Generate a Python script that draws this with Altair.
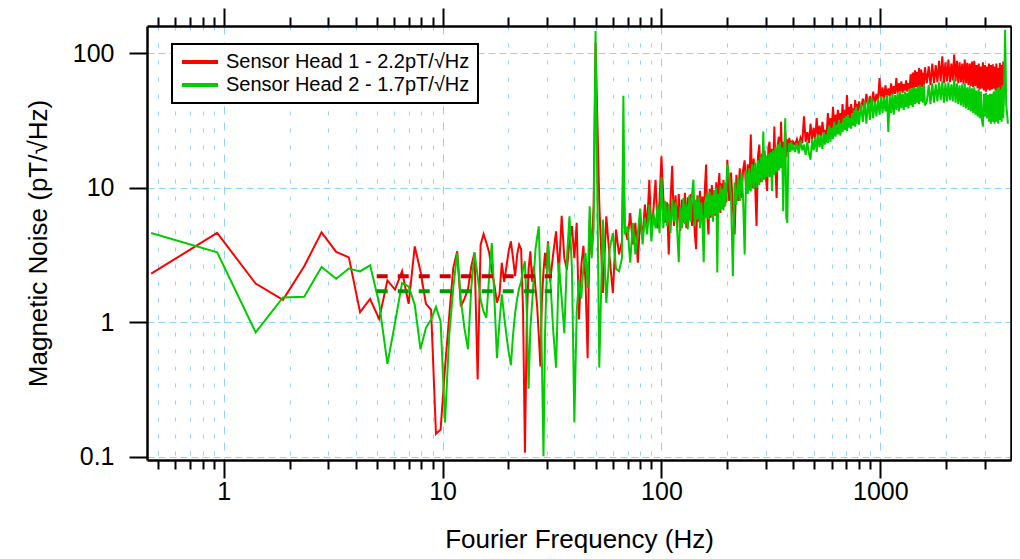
import altair as alt
import pandas as pd

NAME_RED = "Sensor Head 1 - 2.2pT/√Hz"
NAME_GREEN = "Sensor Head 2 - 1.7pT/√Hz"

# ---- low-frequency FFT bins (Hz) ----
LF_F = [0.466, 0.933, 1.399, 1.865, 2.332, 2.798, 3.264, 3.730, 4.197, 4.663,
        5.129, 5.596, 6.062, 6.528, 6.995, 7.461, 7.927, 8.393, 8.860, 9.326,
        9.792, 10.26, 10.72, 11.19, 11.66, 12.12, 12.59, 13.06, 13.52, 13.99,
        14.46, 14.92, 15.39, 15.85, 16.32, 16.79, 17.25, 17.72, 18.19, 18.65,
        19.12, 19.58, 20.05, 20.52, 20.98, 21.45, 21.92, 22.38, 22.85, 23.32,
        23.78, 24.25, 24.71, 25.18, 25.65, 26.11, 26.58, 27.05, 27.51, 27.98,
        28.44, 28.91, 29.38, 29.84, 30.31]
LF_RED = [2.30, 4.62, 1.94, 1.47, 2.61, 4.67, 3.34, 3.04, 1.19, 1.49,
          1.06, 2.05, 1.75, 2.40, 1.37, 3.67, 2.39, 1.37, 1.24, 0.148,
          0.159, 0.46, 1.11, 2.54, 3.37, 1.31, 1.5, 1.75, 2.6, 3.3,
          0.375, 3.78, 4.54, 3.9, 3.3, 2.4, 1.9, 1.4, 1.6, 2.77,
          2.0, 2.6, 3.4, 4.0, 3.0, 2.2, 3.2, 3.78, 3.5, 1.2,
          0.107, 1.0, 2.5, 3.37, 2.0, 2.61, 1.8, 1.31, 0.8, 0.47,
          1.5, 2.4, 3.28, 2.5, 4.0]
LF_GREEN = [4.62, 3.32, 0.84, 1.53, 1.55, 2.58, 2.11, 2.51, 2.39, 2.65,
            1.39, 0.49, 0.99, 1.96, 1.85, 1.35, 0.63, 0.91, 1.05, 1.30,
            1.02, 0.18, 0.80, 1.80, 3.28, 1.47, 0.9, 0.63, 1.8, 3.3,
            2.2, 1.47, 1.2, 1.08, 2.2, 3.89, 1.5, 0.54, 1.0, 1.61,
            1.1, 0.8, 0.6, 0.48, 0.8, 1.17, 1.5, 1.8, 2.0, 2.5,
            2.84, 1.2, 0.32, 0.9, 1.39, 2.2, 3.5, 4.3, 5.17, 2.0,
            0.5, 0.101, 0.8, 2.0, 3.89]

# ---- 31 - 100 Hz ----
MID_F = [31, 32, 33, 34, 35, 36, 37, 38, 39, 40, 41, 42, 43, 44, 45, 46, 47, 48, 49, 50,
         52, 54, 56, 58, 60, 62, 64, 66, 67, 68, 70, 72, 74, 76, 78, 80, 82, 84, 86, 88,
         90, 92, 94, 96, 98, 100]
MID_RED = [2.0, 3.2, 4.75, 2.3, 6.2, 3.0, 2.46, 4.0, 5.2, 3.0, 5.5, 1.05, 2.6, 3.7, 2.0,
           0.54, 5.8, 3.2, 7.5, 120,
           7.7, 1.65, 6.15, 3.0, 1.65, 4.9, 3.2, 4.0, 15.7, 5.0, 4.1, 6.5, 3.8, 5.5, 2.77,
           6.0, 4.2, 7.5, 5.0, 11.5, 4.5, 7.0, 11.5, 5.0, 8.0, 17.2]
MID_GREEN = [2.2, 0.88, 0.46, 2.77, 1.5, 0.83, 3.0, 6.15, 2.5, 0.18, 1.2, 2.08, 1.5, 2.6,
             3.28, 1.8, 7.3, 3.0, 5.0, 147,
             0.46, 5.8, 1.39, 3.5, 4.6, 2.5, 2.4, 3.0, 48.5, 4.5, 5.17, 2.77, 5.5, 3.2,
             4.6, 7.0, 3.8, 6.0, 4.5, 7.5, 4.0, 6.5, 5.0, 7.5, 4.6, 12.0]

# ---- 100 - 200 Hz ----
C_F = [102, 104, 106, 108, 110, 112, 114, 116, 118, 120, 122, 124, 126, 128, 130, 132,
       134, 136, 138, 140, 142, 144, 146, 148, 150, 152, 154, 156, 158, 160, 162, 164,
       166, 168, 170, 172, 174, 176, 178, 180, 182, 184, 186, 188, 190, 192, 194, 196,
       198, 200]
C_RED = [8.5, 5.5, 7.8, 3.2, 8.0, 14.6, 5.2, 8.8, 5.0, 9.0,
         4.8, 8.2, 5.5, 9.2, 5.0, 8.5, 5.8, 9.0, 5.2, 8.0,
         4.6, 3.5, 8.8, 5.6, 9.5, 6.0, 8.6, 5.4, 10.0, 14.9,
         6.2, 4.5, 9.8, 6.0, 10.5, 6.4, 9.6, 6.2, 11.0, 6.8,
         10.2, 12.9, 6.5, 10.8, 7.0, 11.5, 7.2, 10.0, 7.8, 16.2]
C_GREEN = [5.0, 8.0, 5.2, 7.6, 4.6, 8.2, 5.6, 7.8, 4.8, 2.8,
           7.2, 5.0, 8.4, 5.4, 7.6, 4.9, 8.8, 5.6, 9.0, 11.5,
           5.2, 8.2, 5.8, 8.6, 5.0, 7.8, 5.4, 2.8, 8.0, 6.0,
           9.2, 5.8, 9.4, 6.2, 8.8, 5.6, 9.6, 6.4, 10.0, 2.35,
           9.0, 6.6, 10.4, 7.0, 9.8, 6.8, 11.0, 7.4, 10.2, 15.0]

# ---- 200 - 400 Hz ----
D_F = [204, 208, 212, 216, 220, 224, 228, 232, 236, 240, 244, 248, 252, 256, 260, 264,
       268, 272, 276, 280, 284, 288, 292, 296, 300, 304, 308, 312, 316, 320, 324, 328,
       332, 336, 340, 344, 348, 352, 356, 360, 364, 368, 372, 376, 380, 384, 388, 392,
       396, 400]
D_RED = [8.0, 13.0, 7.2, 4.5, 12.5, 8.0, 14.0, 8.4, 13.5, 16.0,
         9.0, 15.0, 9.6, 24.9, 10.0, 16.5, 10.4, 5.2, 17.0, 21.0,
         11.0, 18.0, 11.5, 19.0, 12.0, 9.5, 20.0, 22.0, 12.5, 19.5,
         13.0, 28.6, 14.0, 8.4, 21.0, 24.0, 14.5, 31.0, 15.0, 22.0,
         16.0, 26.0, 17.0, 23.0, 18.5, 23.6, 19.0, 22.5, 19.5, 22.0]
D_GREEN = [12.0, 8.5, 2.2, 11.0, 7.5, 12.0, 8.0, 13.0, 8.6, 3.2,
           13.5, 9.0, 14.0, 9.4, 15.0, 9.8, 15.5, 10.0, 16.0, 10.5,
           17.0, 11.0, 26.2, 11.5, 17.5, 12.0, 18.0, 12.0, 18.5, 9.5,
           19.0, 12.5, 20.0, 13.0, 21.0, 13.5, 22.0, 14.0, 20.0, 6.7,
           19.0, 33.0, 6.0, 5.5, 18.0, 21.5, 18.5, 22.0, 19.0, 21.0]

# ---- 400 - 800 Hz ----
E_F = [408, 416, 424, 432, 440, 448, 456, 464, 472, 480, 488, 496, 504, 512, 520, 528,
       536, 544, 552, 560, 568, 576, 584, 592, 600, 608, 616, 624, 632, 640, 648, 656,
       664, 672, 680, 688, 696, 704, 712, 720, 728, 736, 744, 752, 760, 768, 776, 784,
       792, 800]
E_RED = [21.0, 23.0, 20.5, 23.5, 21.5, 34.0, 22.0, 26.0, 21.5, 30.0,
         23.0, 28.0, 22.5, 33.0, 24.0, 29.0, 23.5, 31.0, 25.0, 27.0,
         24.0, 36.0, 26.0, 33.0, 27.0, 40.0, 28.0, 35.0, 29.0, 38.0,
         28.5, 36.0, 30.0, 42.0, 31.0, 38.0, 32.0, 49.0, 33.0, 40.0,
         32.0, 42.0, 34.0, 39.0, 35.0, 45.0, 36.0, 42.0, 37.0, 44.0]
E_GREEN = [18.5, 21.5, 18.0, 22.5, 19.0, 21.0, 17.6, 22.0, 18.0, 16.2,
           23.0, 19.0, 24.0, 18.5, 25.0, 20.0, 24.5, 19.5, 26.0, 21.0,
           25.0, 21.5, 29.0, 22.0, 28.0, 23.0, 31.0, 24.0, 29.5, 25.0,
           32.0, 24.5, 30.0, 26.0, 33.0, 27.0, 34.0, 26.5, 35.0, 28.0,
           33.0, 27.5, 36.0, 29.0, 38.0, 28.5, 40.0, 30.0, 37.0, 29.5]

# ---- 800 - 1600 Hz ----
F_F = [816, 832, 848, 864, 880, 896, 912, 928, 944, 960, 976, 992, 1008, 1024, 1040,
       1056, 1072, 1088, 1104, 1120, 1136, 1152, 1168, 1184, 1200, 1216, 1232, 1248,
       1264, 1280, 1296, 1312, 1328, 1344, 1360, 1376, 1392, 1408, 1424, 1440, 1456,
       1472, 1488, 1504, 1520, 1536, 1552, 1568, 1584, 1600]
F_RED = [38.0, 46.0, 39.0, 50.0, 40.0, 48.0, 41.0, 52.0, 42.0, 50.0,
         44.0, 65.6, 45.0, 56.0, 46.0, 58.0, 47.0, 55.0, 48.0, 60.0,
         49.0, 57.0, 50.0, 65.6, 51.0, 60.0, 52.0, 62.0, 51.0, 59.0,
         53.0, 63.0, 52.0, 60.0, 54.0, 70.0, 55.0, 72.0, 54.0, 75.0,
         56.0, 73.0, 55.0, 78.0, 57.0, 76.0, 56.0, 72.0, 58.0, 79.0]
F_GREEN = [42.0, 31.0, 44.0, 30.0, 46.0, 32.0, 47.0, 33.0, 44.0, 34.0,
           46.0, 35.0, 48.0, 36.0, 47.0, 37.0, 49.0, 26.0, 48.0, 36.0,
           50.0, 35.0, 49.0, 38.0, 51.0, 37.0, 52.0, 39.0, 50.0, 38.0,
           52.0, 40.0, 51.0, 39.0, 54.0, 41.0, 55.0, 40.0, 56.0, 42.0,
           55.0, 43.0, 57.0, 42.0, 58.0, 44.0, 56.0, 43.0, 59.0, 41.0]

# ---- 1600 - 3200 Hz ----
G_F = [1632, 1664, 1696, 1728, 1760, 1792, 1824, 1856, 1888, 1920, 1952, 1984, 2016,
       2048, 2080, 2112, 2144, 2176, 2208, 2240, 2272, 2304, 2336, 2368, 2400, 2432,
       2464, 2496, 2528, 2560, 2592, 2624, 2656, 2688, 2720, 2752, 2784, 2816, 2848,
       2880, 2912, 2944, 2976, 3008, 3040, 3072, 3104, 3136, 3168, 3200]
G_RED = [60.0, 80.0, 58.0, 84.0, 60.0, 82.0, 61.0, 88.0, 62.0, 95.0,
         60.0, 86.0, 62.0, 90.0, 61.0, 84.0, 63.0, 98.0, 62.0, 88.0,
         60.0, 86.0, 61.0, 84.0, 59.0, 90.0, 60.0, 85.0, 58.0, 84.0,
         57.0, 87.0, 56.0, 88.0, 57.0, 82.0, 55.0, 84.0, 54.0, 80.0,
         55.0, 86.0, 53.0, 82.0, 52.0, 80.0, 54.0, 84.0, 53.0, 82.0]
G_GREEN = [44.0, 58.0, 42.0, 60.0, 43.0, 59.0, 44.0, 61.0, 45.0, 62.0,
           43.0, 60.0, 44.0, 61.0, 45.0, 59.0, 44.0, 65.0, 43.0, 60.0,
           42.0, 58.0, 41.0, 59.0, 40.0, 60.0, 39.0, 56.0, 38.0, 57.0,
           37.0, 55.0, 36.0, 56.0, 35.0, 53.0, 34.0, 54.0, 33.0, 52.0,
           32.0, 28.6, 50.0, 34.0, 51.0, 33.0, 49.0, 31.0, 50.0, 30.0]

# ---- 3200 Hz - end ----
H_F = [3232, 3264, 3296, 3328, 3360, 3392, 3424, 3456, 3488, 3520, 3552, 3584, 3616,
       3648, 3680, 3720, 3760, 3800, 3830]
H_RED = [54.0, 83.0, 55.0, 80.0, 53.0, 84.0, 52.0, 78.0, 54.0, 85.0, 53.0, 82.0, 55.0,
         87.0, 56.0, 80.0]
H_GREEN = [50.0, 31.0, 52.0, 30.0, 53.0, 31.0, 55.0, 30.0, 56.0, 32.0, 54.0, 31.0, 58.0,
           33.0, 52.0, 150.0, 42.0, 35.0, 30.0]

AVG_F = [5.0, 31.6]
AVG_RED = 2.2
AVG_GREEN = 1.7

X_TICKS = [0.5, 0.6, 0.7, 0.8, 0.9, 1, 2, 3, 4, 5, 6, 7, 8, 9, 10, 20, 30, 40, 50, 60,
           70, 80, 90, 100, 200, 300, 400, 500, 600, 700, 800, 900, 1000, 2000, 3000]
Y_TICKS = [0.1, 1, 10, 100]

SEGMENTS = [(LF_F, LF_RED, LF_GREEN), (MID_F, MID_RED, MID_GREEN), (C_F, C_RED, C_GREEN),
            (D_F, D_RED, D_GREEN), (E_F, E_RED, E_GREEN), (F_F, F_RED, F_GREEN),
            (G_F, G_RED, G_GREEN), (H_F, H_RED, H_GREEN)]

red_rows, green_rows = [], []
for fs, rs, gs in SEGMENTS:
    assert len(rs) <= len(fs) and len(gs) == len(fs), (len(fs), len(rs), len(gs))
    for f, v in zip(fs, rs):
        red_rows.append({"f": f, "v": v, "s": NAME_RED})
    for f, v in zip(fs, gs):
        green_rows.append({"f": f, "v": v, "s": NAME_GREEN})
df = pd.DataFrame(red_rows + green_rows)

avg_rows = []
for f in AVG_F:
    avg_rows.append({"f": f, "v": AVG_RED, "c": "#cc0000", "g": "r"})
for f in AVG_F:
    avg_rows.append({"f": f, "v": AVG_GREEN, "c": "#009900", "g": "g"})
avg = pd.DataFrame(avg_rows)

FONT = "Liberation Sans"
GRID = "#8fd4f8"
MAJOR = "indexof([1,10,100,1000], datum.value) >= 0"
xscale = alt.Scale(type="log", domain=[0.446, 3956], nice=False)
yscale = alt.Scale(type="log", domain=[0.0945, 160], nice=False)

common = dict(domainColor="black", domainWidth=2.5, tickColor="black", tickWidth=2,
              labelColor="black", titleColor="black", labelFont=FONT, titleFont=FONT,
              labelFontSize=25, titleFontSize=26, titleFontWeight="normal",
              labelOverlap=False, labelFlush=False)

x_bottom = alt.Axis(orient="bottom", values=X_TICKS, title="Fourier Frequency (Hz)",
                    labelExpr=MAJOR + " ? '' + datum.value : ''",
                    tickSize={"condition": {"test": MAJOR, "value": 18}, "value": 9},
                    grid=True, gridColor=GRID, gridWidth=1,
                    gridDash={"condition": {"test": MAJOR, "value": [8, 8]}, "value": [4, 13]},
                    labelPadding=1, titlePadding=22, **common)
y_left = alt.Axis(orient="left", values=Y_TICKS, title="Magnetic Noise (pT/√Hz)",
                  labelExpr="'' + datum.value", tickSize=18, labelPadding=15,
                  grid=True, gridColor=GRID, gridWidth=1, gridDash=[7, 4],
                  titlePadding=21, **common)
x_top = alt.Axis(orient="top", values=X_TICKS, labels=False, title="",
                 tickSize={"condition": {"test": MAJOR, "value": 18}, "value": 9},
                 grid=False, **common)
y_right = alt.Axis(orient="right", values=Y_TICKS, labels=False, title="",
                   tickSize=18, grid=False, **common)

lines = alt.Chart(df).mark_line(strokeWidth=2).encode(
    x=alt.X("f:Q", scale=xscale, axis=x_bottom),
    y=alt.Y("v:Q", scale=yscale, axis=y_left),
    color=alt.Color("s:N", scale=alt.Scale(domain=[NAME_RED, NAME_GREEN],
                                           range=["#ff0000", "#00cc00"]),
                    legend=alt.Legend(title=None)),
)

dashes = alt.Chart(avg).mark_line(strokeWidth=4, strokeDash=[11, 10]).encode(
    x=alt.X("f:Q", scale=xscale, axis=x_top),
    y=alt.Y("v:Q", scale=yscale, axis=y_right),
    color=alt.Color("c:N", scale=None),
    detail="g:N",
)

chart = alt.layer(lines, dashes).resolve_axis(x="independent", y="independent").properties(
    width=864, height=434,
    autosize=alt.AutoSizeParams(type="none"),
    padding={"left": 139, "top": 18, "right": 1, "bottom": 95},
).configure_view(stroke=None).configure_legend(
    orient="none", legendX=25, legendY=18,
    strokeColor="black", strokeWidth=2, fillColor="white", padding=8,
    symbolType="M-3,0L3,0", symbolStrokeWidth=4, symbolSize=144,
    symbolOffset=10, labelOffset=16, rowPadding=3, labelLimit=400,
    labelFont=FONT, labelFontSize=20, labelColor="black",
)

chart.save("out.html", embed_options={"renderer": "svg", "actions": False})
